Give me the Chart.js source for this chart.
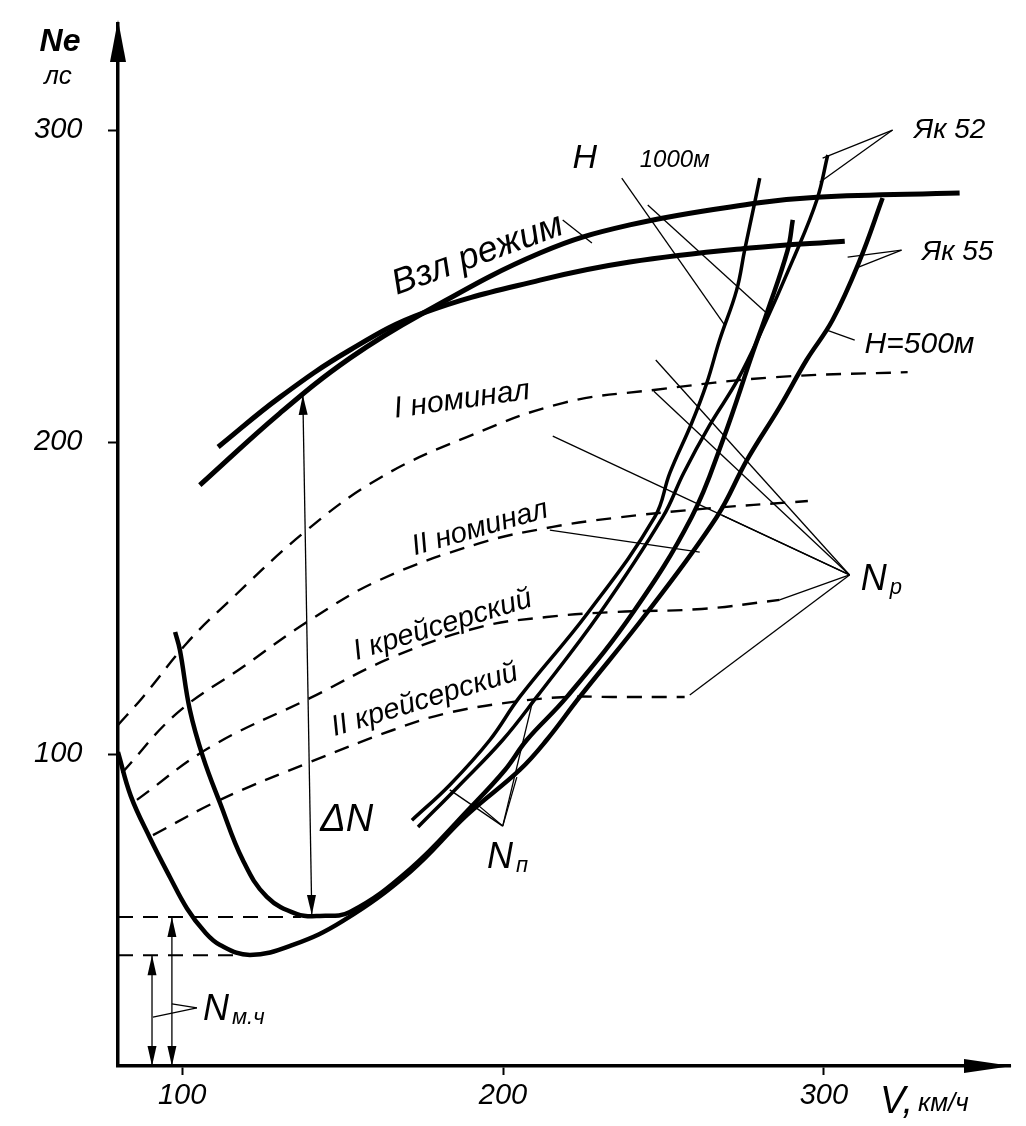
<!DOCTYPE html>
<html lang="ru">
<head>
<meta charset="utf-8">
<title>Ne(V)</title>
<script src="https://cdn.jsdelivr.net/npm/chart.js@4.4.1/dist/chart.umd.min.js"></script>
<style>
  html, body { margin: 0; padding: 0; background: #fff; }
</style>
</head>
<body>
<canvas id="chart" width="1026" height="1126"></canvas>
<script>
'use strict';

// ---------------------------------------------------------------------------
// Данные (V, км/ч ; Ne, лс)
// ---------------------------------------------------------------------------
const xTicks = [100, 200, 300];
const yTicks = [100, 200, 300];

// располагаемая мощность, взлётный режим (две кривые)
const avail1V = [105.5, 130.5, 152.3, 175.0, 211.5, 239.5, 279.1, 297.8, 342.3];
const avail1N = [186.2, 209.3, 226.9, 241.3, 260.6, 269.6, 276.6, 278.5, 279.8];
const avail2V = [111.2, 130.5, 152.3, 175.0, 211.5, 239.5, 276.9, 306.5];
const avail2N = [198.4, 214.4, 229.5, 241.3, 251.9, 257.7, 262.2, 264.4];

// режимы работы двигателя (штриховые)
const nom1V = [80, 87.8, 101.5, 114.0, 138.9, 161.6, 188.7, 218.6, 247.0, 285.0, 326.1];
const nom1N = [109.3, 118.3, 135.6, 148.4, 171.8, 188.5, 201.6, 212.5, 216.7, 220.8, 222.4];
const nom2V = [81.2, 98.4, 118.9, 139.8, 161.6, 192.8, 215.5, 234.2, 261.3, 295.0];
const nom2N = [93.9, 113.1, 127.9, 142.9, 155.8, 167.6, 172.8, 175.6, 178.5, 181.1];
const cr1V = [85.9, 108.7, 139.8, 165.7, 192.8, 213.6, 234.2, 261.9, 286.2];
const cr1N = [85.3, 102.2, 117.9, 131.1, 140.7, 143.9, 145.5, 146.5, 149.4];
const cr2V = [90.9, 111.8, 139.8, 165.7, 182.5, 203.1, 219.9, 234.2, 256.6];
const cr2N = [74.0, 85.3, 97.4, 107.7, 113.1, 116.7, 118.3, 118.3, 118.3];

// потребная мощность, H = 0
const req1V = [80, 84.0, 90.0, 96.2, 101.5, 107.0, 111.8, 121.1, 134.5, 150.1, 171.0, 188.7, 205.2, 213.6,
  223.9, 244.8, 266.6, 276.0, 286.2, 294.6, 302.7, 311.2, 318.3];
const req1N = [100.6, 86.5, 73.0, 60.5, 50.5, 43.0, 38.8, 35.6, 38.8, 46.5, 62.2, 80.4, 94.9, 104.5,
  118.3, 145.2, 176.0, 194.2, 211.2, 226.3, 239.1, 258.3, 278.2];
const req2V = [97.8, 99.3, 102.4, 106.5, 111.8, 118.9, 126.4, 135.8, 142.9, 152.3, 171.0, 189.7,
  200.6, 207.4, 219.9, 240.4, 258.8, 268.5, 277.8, 282.2, 288.7, 290.3];
const req2N = [139.1, 133.3, 114.1, 99.0, 84.3, 66.0, 54.2, 48.7, 48.1, 49.4, 63.1, 82.7,
  94.9, 104.5, 118.3, 145.2, 176.0, 200.6, 228.5, 241.3, 261.5, 271.2];

// потребная мощность, H = 1000 м
const h1000aV = [171.6, 183.4, 195.9, 205.2, 226.4, 247.3, 252.0, 258.8, 263.5, 267.5, 272.8, 275.3, 278.4, 280.0];
const h1000aN = [78.8, 90.1, 104.5, 118.3, 145.2, 176.0, 190.1, 206.1, 218.9, 232.7, 248.7, 261.5, 276.6, 284.6];
const h1000bV = [173.5, 186.5, 199.9, 210.5, 230.2, 249.8, 256.3, 264.4, 273.1, 280.0, 290.3, 297.8, 301.2];
const h1000bN = [76.6, 90.1, 104.5, 118.3, 145.2, 176.0, 190.1, 205.4, 219.9, 234.3, 258.3, 277.6, 292.0];

// минимальные мощности (N м.ч) и ΔN
const minLowV = [80, 119];
const minLowN = [35.5, 35.5];
const minHighV = [80, 137];
const minHighN = [47.8, 47.8];
const nmchArrowV = [90.6, 96.8];
const nmchArrowTop = [35.5, 47.8];
const dNV = [137.6, 140.4];
const dNN = [215.1, 48.4];

// выноски
const npPoint = [308.0, 157.4];
const npFromV = [247.6, 247.0, 215.5, 268.2, 258.2, 286.2];
const npFromN = [226.3, 216.3, 201.9, 176.6, 118.9, 149.4];
const nnPoint = [199.9, 76.9];
const nnFromV = [183.4, 192.1, 204.3, 209.3];
const nnFromN = [88.5, 83.7, 92.6, 117.3];
const leaderV = [[321.4, 299.6], [321.4, 298.7], [324.2, 307.4], [324.2, 310.2], [309.6, 300.9],
  [237.0, 269.1], [245.1, 282.2], [218.6, 227.7], [214.6, 261.3], [104.6, 90.9], [104.6, 96.8]];
const leaderN = [[300.0, 291.0], [300.0, 283.3], [261.5, 259.3], [261.5, 255.8], [232.7, 235.9],
  [284.6, 237.5], [276.0, 241.3], [271.2, 263.8], [171.8, 164.7], [18.6, 15.7], [18.6, 19.9]];

// ---------------------------------------------------------------------------
// Стили
// ---------------------------------------------------------------------------
const FONT = "'Liberation Sans', 'DejaVu Sans', sans-serif";
const INK = '#000';

const thick = { borderColor: INK, borderWidth: 4.5, pointRadius: 0, tension: 0.4, fill: false, clip: false };
const dashed = { ...thick, borderWidth: 2.4, borderDash: [15, 10] };
const thin = { borderColor: INK, borderWidth: 1.3, pointRadius: 0, tension: 0, fill: false, clip: false };

function series(V, N, style, extra) {
  return { data: V.map((v, i) => ({ x: v, y: N[i] })), ...style, ...(extra || {}) };
}

const datasets = [
  series(avail1V, avail1N, thick, { borderWidth: 5 }),
  series(avail2V, avail2N, thick, { borderWidth: 5 }),
  series(nom1V, nom1N, dashed),
  series(nom2V, nom2N, dashed),
  series(cr1V, cr1N, dashed),
  series(cr2V, cr2N, dashed),
  series(req1V, req1N, thick),
  series(req2V, req2N, thick),
  series(h1000aV, h1000aN, thick, { borderWidth: 3.5 }),
  series(h1000bV, h1000bN, thick, { borderWidth: 3.5 }),
  series(minLowV, minLowN, dashed, { tension: 0, borderWidth: 2 }),
  series(minHighV, minHighN, dashed, { tension: 0, borderWidth: 2 }),
  series(dNV, dNN, thin, { arrow: 'both' }),
];
nmchArrowV.forEach((v, i) => datasets.push(series([v, v], [0, nmchArrowTop[i]], thin, { arrow: 'both' })));
npFromV.forEach((v, i) => datasets.push(series([v, npPoint[0]], [npFromN[i], npPoint[1]], thin)));
nnFromV.forEach((v, i) => datasets.push(series([v, nnPoint[0]], [nnFromN[i], nnPoint[1]], thin)));
leaderV.forEach((pair, i) => datasets.push(series(pair, leaderN[i], thin)));

// ---------------------------------------------------------------------------
// Подписи и стрелки
// ---------------------------------------------------------------------------
function text(ctx, s, x, y, size, rot, align) {
  ctx.save();
  ctx.translate(x, y);
  if (rot) ctx.rotate(rot * Math.PI / 180);
  ctx.font = `italic ${size}px ${FONT}`;
  ctx.fillStyle = INK;
  ctx.textAlign = align || 'center';
  ctx.textBaseline = 'middle';
  ctx.fillText(s, 0, 0);
  ctx.restore();
}

function textSub(ctx, main, sub, x, y, size) {
  ctx.save();
  ctx.font = `italic ${size}px ${FONT}`;
  ctx.fillStyle = INK;
  ctx.textBaseline = 'middle';
  ctx.textAlign = 'left';
  ctx.fillText(main, x, y);
  const w = ctx.measureText(main).width;
  ctx.font = `italic ${Math.round(size * 0.62)}px ${FONT}`;
  ctx.fillText(sub, x + w + 3, y + size * 0.22);
  ctx.restore();
}

function arrowHead(ctx, tx, ty, fx, fy, len, half) {
  const d = Math.hypot(tx - fx, ty - fy) || 1;
  const ux = (tx - fx) / d, uy = (ty - fy) / d;
  ctx.beginPath();
  ctx.moveTo(tx, ty);
  ctx.lineTo(tx - ux * len - uy * half, ty - uy * len + ux * half);
  ctx.lineTo(tx - ux * len + uy * half, ty - uy * len - ux * half);
  ctx.closePath();
  ctx.fill();
}

const overlay = {
  id: 'overlay',
  afterDraw(chart) {
    const { ctx, chartArea: a, scales: { x, y } } = chart;
    const px = v => x.getPixelForValue(v);
    const py = n => y.getPixelForValue(n);
    ctx.save();
    ctx.fillStyle = INK;

    // стрелки осей
    arrowHead(ctx, a.left, a.top - 4, a.left, a.top + 10, 42, 8);
    arrowHead(ctx, a.right + 2, a.bottom, a.right - 10, a.bottom, 48, 7);

    // стрелки на размерных линиях
    chart.data.datasets.forEach((ds, i) => {
      if (!ds.arrow) return;
      const pts = chart.getDatasetMeta(i).data;
      const n = pts.length;
      arrowHead(ctx, pts[n - 1].x, pts[n - 1].y, pts[n - 2].x, pts[n - 2].y, 20, 4.5);
      if (ds.arrow === 'both') arrowHead(ctx, pts[0].x, pts[0].y, pts[1].x, pts[1].y, 20, 4.5);
    });

    // подписи осей
    ctx.fillStyle = INK;
    ctx.font = `italic bold 32px ${FONT}`;
    ctx.textAlign = 'center';
    ctx.textBaseline = 'middle';
    ctx.fillText('Ne', a.left - 58, a.top + 18);
    text(ctx, 'лс', a.left - 60, a.top + 53, 26);
    text(ctx, 'V,', a.right - 130, a.bottom + 36, 38, 0, 'left');
    text(ctx, 'км/ч', a.right - 92, a.bottom + 38, 26, 0, 'left');

    // подписи кривых
    text(ctx, 'Взл режим', px(192.1), py(260.0), 36, -20);
    text(ctx, 'I номинал', px(187.2), py(213.5), 30, -8);
    text(ctx, 'II номинал', px(192.8), py(172.4), 29, -16);
    text(ctx, 'I крейсерский', px(181.2), py(141.3), 29, -17);
    text(ctx, 'II крейсерский', px(175.6), py(117.3), 29, -17);
    text(ctx, 'ΔN', px(151.3), py(78.8), 38);
    text(ctx, 'Як 52', px(339.2), py(300.0), 28);
    text(ctx, 'Як 55', px(341.7), py(260.9), 28);
    text(ctx, 'H=500м', px(329.8), py(231.1), 30);
    text(ctx, 'H', px(225.5), py(291.0), 34);
    text(ctx, '1000м', px(253.5), py(290.4), 24);
    textSub(ctx, 'N', 'п', px(195.0), py(66.7), 36);
    textSub(ctx, 'N', 'р', px(311.5), py(155.8), 36);
    textSub(ctx, 'N', 'м.ч', px(106.5), py(17.9), 36);
    ctx.restore();
  }
};

// ---------------------------------------------------------------------------
// График
// ---------------------------------------------------------------------------
const tickFont = { family: FONT, size: 29, style: 'italic' };

new Chart(document.getElementById('chart'), {
  type: 'line',
  data: { datasets },
  options: {
    responsive: false,
    animation: false,
    devicePixelRatio: 1,
    layout: { padding: { left: 34, top: 24, right: 16, bottom: 0 } },
    plugins: { legend: { display: false }, tooltip: { enabled: false } },
    scales: {
      x: {
        type: 'linear', min: 80, max: 358,
        afterFit: s => { s.height = 60; },
        afterBuildTicks: s => { s.ticks = xTicks.map(v => ({ value: v })); },
        grid: { drawOnChartArea: false, drawTicks: true, tickLength: 9, tickWidth: 2, tickColor: INK },
        border: { display: true, color: INK, width: 3.5 },
        ticks: { color: INK, font: tickFont, padding: 4, maxRotation: 0, autoSkip: false },
      },
      y: {
        type: 'linear', min: 0, max: 334,
        afterFit: s => { s.width = 84; },
        afterBuildTicks: s => { s.ticks = yTicks.map(v => ({ value: v })); },
        grid: { drawOnChartArea: false, drawTicks: true, tickLength: 10, tickWidth: 2, tickColor: INK },
        border: { display: true, color: INK, width: 3.5 },
        ticks: { color: INK, font: tickFont, padding: 4, crossAlign: 'far', autoSkip: false },
      },
    },
  },
  plugins: [overlay],
});
</script>
</body>
</html>
